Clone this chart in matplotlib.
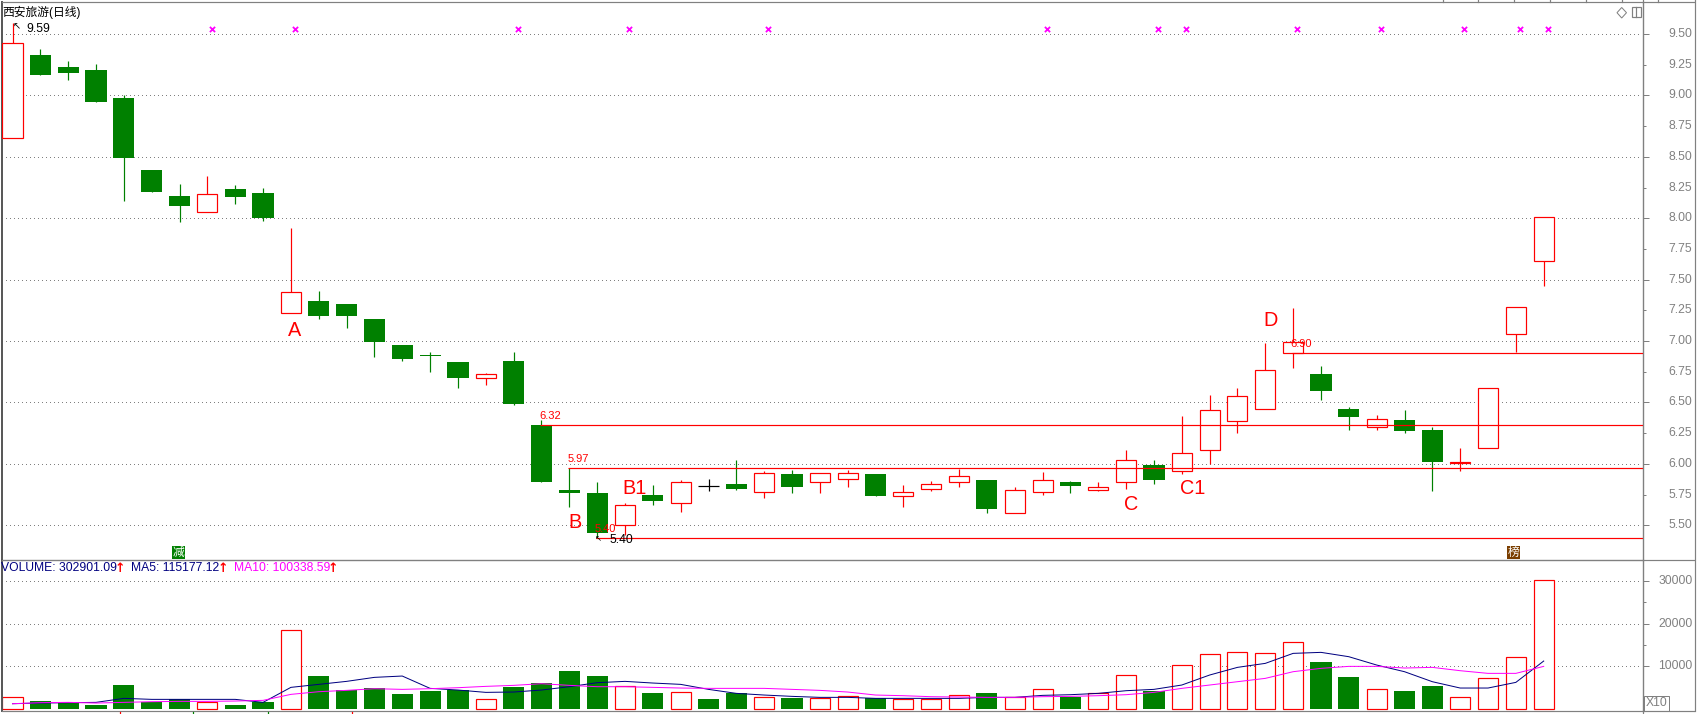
import matplotlib
matplotlib.use("Agg")
import matplotlib.pyplot as plt
from matplotlib.lines import Line2D
from matplotlib.patches import Rectangle, Polygon
import numpy as np

W, H = 1697, 714

# candles
opens = [8.65, 9.33, 9.23, 9.207, 8.98, 8.39, 8.18, 8.05, 8.24, 8.205, 7.23, 7.33, 7.30, 7.18,
         6.97, 6.89, 6.83, 6.70, 6.84, 6.316, 5.787, 5.763, 5.50, 5.746, 5.68, 5.823, 5.836, 5.774,
         5.917, 5.85, 5.874, 5.917, 5.741, 5.793, 5.85, 5.869, 5.603, 5.774, 5.852, 5.79, 5.85, 5.988,
         5.945, 6.11, 6.346, 6.444, 6.90, 6.73, 6.447, 6.297, 6.357, 6.276, 6.006, 6.126, 7.055, 7.654]
closes = [9.424, 9.166, 9.185, 8.95, 8.49, 8.21, 8.10, 8.20, 8.175, 8.0, 7.396, 7.20, 7.20, 6.99,
          6.85, 6.88, 6.70, 6.73, 6.49, 5.854, 5.766, 5.44, 5.662, 5.70, 5.85, 5.823, 5.798, 5.923,
          5.814, 5.923, 5.923, 5.741, 5.768, 5.833, 5.898, 5.635, 5.785, 5.866, 5.823, 5.809, 6.029, 5.871,
          6.086, 6.436, 6.553, 6.765, 6.99, 6.59, 6.384, 6.363, 6.27, 6.018, 6.012, 6.62, 7.275, 8.007]
highs = [9.59, 9.378, 9.28, 9.256, 9.0, 8.39, 8.28, 8.34, 8.27, 8.245, 7.92, 7.41, 7.30, 7.18,
         6.97, 6.91, 6.83, 6.74, 6.91, 6.36, 5.964, 5.852, 5.679, 5.828, 5.869, 5.874, 6.03, 5.942,
         5.95, 5.923, 5.95, 5.917, 5.828, 5.86, 5.961, 5.869, 5.809, 5.934, 5.86, 5.852, 6.113, 6.029,
         6.39, 6.56, 6.615, 6.985, 7.27, 6.80, 6.463, 6.395, 6.44, 6.297, 6.126, 6.62, 7.275, 8.007]
lows = [8.65, 9.166, 9.125, 8.95, 8.14, 8.21, 7.97, 8.05, 8.115, 7.98, 7.23, 7.18, 7.11, 6.87,
        6.84, 6.75, 6.62, 6.64, 6.48, 5.854, 5.65, 5.40, 5.42, 5.665, 5.61, 5.776, 5.787, 5.725,
        5.766, 5.766, 5.814, 5.741, 5.65, 5.782, 5.814, 5.603, 5.603, 5.747, 5.766, 5.782, 5.798, 5.839,
        5.917, 6.0, 6.254, 6.444, 6.78, 6.52, 6.278, 6.278, 6.254, 5.782, 5.945, 6.126, 6.91, 7.45]

volumes = [2670, 1800, 1490, 860, 5570, 1650, 2200, 1490, 860, 1570, 18430, 7690, 4390, 4780,
           3450, 4160, 4390, 2200, 5100, 6000, 8860, 7690, 5250, 3690, 3840, 2270, 3610, 2670,
           2510, 2430, 2900, 2430, 2200, 2200, 3140, 3690, 2670, 4550, 2820, 3610, 7840, 4160,
           10200, 12780, 13250, 13020, 15610, 10980, 7450, 4550, 4160, 5330, 2670, 7140, 12080, 30200]
ma5 = [1176, 1333, 1412, 1490, 2431, 2196, 2196, 2196, 2196, 1490, 5020, 5725, 6431, 7372,
       7686, 4784, 4392, 3843, 3922, 4392, 5176, 6118, 6431, 6039, 5725, 4549, 3608, 3216,
       2902, 2667, 2667, 2431, 2431, 2431, 2431, 2667, 2667, 3137, 3294, 3608, 4235, 4549,
       5569, 7921, 9725, 10666, 13019, 13255, 12235, 10274, 8706, 6353, 4863, 4863, 6196, 11215]
ma10 = [1176, 1412, 1490, 1333, 1490, 1647, 1725, 1725, 1804, 1961, 3372, 4000, 4314, 4706,
        4549, 4706, 4941, 5255, 5490, 5882, 5490, 5176, 5176, 5020, 4863, 4784, 4784, 4784,
        4549, 4314, 3922, 3216, 3059, 2824, 2745, 2667, 2667, 2824, 2902, 3059, 3294, 3843,
        4784, 5569, 6353, 7137, 8706, 9490, 9961, 9961, 9569, 9725, 8941, 8314, 8314, 9961]

marker_days = [7, 10, 18, 22, 27, 37, 41, 42, 46, 49, 52, 54, 55]
level_starts = [19, 20, 21, 46]
level_values = [6.315, 5.965, 5.395, 6.90]
level_labels = ["6.32", "5.97", "5.40", "6.90"]
price_ticks = [5.5, 6.0, 6.5, 7.0, 7.5, 8.0, 8.5, 9.0, 9.5]
vol_ticks = [10000, 20000, 30000]

RED = "#ff0000"
GREEN = "#008000"
GREY = "#808080"
NAVY = "#000080"
PINK = "#ff00ff"
PX = 0.72  # one pixel in points at dpi 100

plt.rcParams["font.family"] = ["Liberation Sans", "Noto Sans CJK SC", "DejaVu Sans"]
plt.rcParams["lines.scale_dashes"] = False


def fx(x):
    return x / W


def fy(y):
    return 1 - y / H


def main():
    fig = plt.figure(figsize=(W / 100, H / 100), dpi=100)
    left, right = 1.5, 1643.3
    top, mid, bottom = 2.0, 560.3, 711.3
    ax = fig.add_axes([fx(left), fy(mid), fx(right - left), fy(top) - fy(mid)])
    vax = fig.add_axes([fx(left), fy(bottom), fx(right - left), fy(mid) - fy(bottom)])

    x0, step = 12.5, 27.84
    xlim = ((left - x0) / step, (right - x0) / step)
    ax.set_xlim(xlim)
    vax.set_xlim(xlim)
    ax.set_ylim(5.215, 9.7605)
    vax.set_ylim(-612, 34918)

    days = np.arange(len(opens))
    colors = []
    for o, c in zip(opens, closes):
        colors.append("black" if o == c else (RED if c > o else GREEN))

    grid_end = (1640 - x0) / step
    dots = (0, (PX, 2.16))
    ax.hlines(price_ticks, xlim[0], grid_end, color=GREY, lw=PX, linestyle=dots, zorder=1, antialiased=False)
    vax.hlines(vol_ticks, xlim[0], grid_end, color=GREY, lw=PX, linestyle=dots, zorder=1, antialiased=False)

    # price candles
    for i in days:
        c = colors[i]
        ax.vlines(i, lows[i], highs[i], color=c, lw=PX * 1.2, zorder=2)
        if opens[i] == closes[i]:
            ax.hlines(opens[i], i - 0.36, i + 0.36, color=c, lw=PX * 1.2, zorder=3)
            continue
        lo, hi = sorted((opens[i], closes[i]))
        if c == RED:
            ax.bar(i, hi - lo, 0.72, lo, facecolor="white", edgecolor=RED, lw=PX * 1.2, zorder=3)
        else:
            ax.bar(i, hi - lo, 0.76, lo, facecolor=GREEN, edgecolor="none", zorder=3)

    ax.scatter(np.array(marker_days) + 0.15, [9.538] * len(marker_days), marker="x", s=14,
               color=PINK, linewidths=1.3, zorder=4)

    for d, v in zip(level_starts, level_values):
        ax.hlines(v, d - 0.05, xlim[1], color=RED, lw=PX * 1.2, zorder=5)

    # volume bars
    for i in days:
        if colors[i] == RED:
            vax.bar(i, volumes[i], 0.72, facecolor="white", edgecolor=RED, lw=PX * 1.2, zorder=2)
        else:
            vax.bar(i, volumes[i], 0.76, color=GREEN, zorder=2)
    vax.plot(days, ma5, color=NAVY, lw=PX, zorder=3)
    vax.plot(days, ma10, color=PINK, lw=PX, zorder=4)

    for a in (ax, vax):
        a.set_xticks([])
        a.patch.set_alpha(0)
        for s in a.spines.values():
            s.set_color(GREY)
            s.set_linewidth(PX * 1.2)
        a.yaxis.tick_right()
        a.tick_params(axis="y", which="major", length=4.3, width=PX, color=GREY, pad=0, labelright=False)
        a.tick_params(axis="y", which="minor", length=2.2, width=PX, color=GREY)
    ax.spines["left"].set_color("#555555")
    ax.spines["left"].set_linewidth(1.4)
    vax.spines["left"].set_color("#555555")
    vax.spines["left"].set_linewidth(1.4)
    ax.set_yticks(price_ticks)
    ax.set_yticks([5.75, 6.25, 6.75, 7.25, 7.75, 8.25, 8.75, 9.25], minor=True)
    vax.set_yticks(vol_ticks)
    vax.set_yticks([15000, 25000], minor=True)

    # right hand labels
    for t in [5.5, 5.75, 6.0, 6.25, 6.5, 6.75, 7.0, 7.25, 7.5, 7.75, 8.0, 8.25, 8.5, 8.75, 9.0, 9.25, 9.5]:
        ax.text(1.0 + 49 / (right - left), t, f"{t:.2f}", transform=ax.get_yaxis_transform(),
                ha="right", va="center", fontsize=8.7, color=GREY)
    for t in vol_ticks:
        vax.text(1.0 + 49 / (right - left), t, str(t), transform=vax.get_yaxis_transform(),
                 ha="right", va="center", fontsize=8.7, color=GREY)

    # outer window lines
    def line(x1, y1, x2, y2, color=GREY, lw=PX * 1.2):
        fig.add_artist(Line2D([fx(x1), fx(x2)], [fy(y1), fy(y2)], color=color, lw=lw))

    line(right, 0, right, H)
    line(right, top, 1694, top)
    line(right, mid, 1694, mid)
    line(right, bottom, 1694, bottom)
    line(1694.5, 0, 1694.5, bottom)
    for x in [1443, 1478, 1514, 1550, 1586, 1622, 1658]:
        line(x, 0, x, top)
    for x, c in [(120, RED), (193, GREEN), (268, GREEN), (352, RED)]:
        line(x, bottom + 0.5, x, H, color=c)

    # top right icons
    fig.add_artist(Polygon([(fx(1617), fy(12.7)), (fx(1621.7), fy(7.5)), (fx(1626.5), fy(12.7)), (fx(1621.7), fy(18))],
                           closed=True, fill=False, edgecolor=GREY, lw=PX))
    fig.add_artist(Rectangle((fx(1631.7), fy(17.3)), fx(9), fy(7.3) - fy(17.3), fill=False, edgecolor=GREY, lw=PX * 1.2))
    line(1636.2, 7.3, 1636.2, 17.3)

    # texts
    def txt(x, y, s, color="black", size=8.7, **kw):
        fig.text(fx(x), fy(y), s, color=color, fontsize=size, va="center", ha=kw.pop("ha", "left"), **kw)

    txt(2, 12, "西安旅游(日线)", size=8.5)
    txt(13, 26, "↖", size=7, family="DejaVu Sans")
    txt(26, 29, "9.59")
    txt(610, 540, "5.40")
    txt(595, 539, "↖", size=6, family="DejaVu Sans")
    level_pos = [(539, 416), (568, 459), (595, 529), (1290, 344)]
    for (x, y), s in zip(level_pos, level_labels):
        txt(x, y, s, color=RED, size=8)

    for (x, y), s in zip([(295, 330), (575, 523), (635, 489), (1131, 505), (1193, 489), (1271, 321)],
                         ["A", "B", "B1", "C", "C1", "D"]):
        txt(x, y, s, color=RED, size=14.3, ha="center")

    txt(1, 568, "VOLUME: 302901.09", color=NAVY, size=8.7)
    txt(131, 568, "MA5: 115177.12", color=NAVY, size=8.7)
    txt(234, 568, "MA10: 100338.59", color=PINK, size=8.7)
    for x in [119.5, 222.5, 332.5]:
        txt(x, 568, "↑", color=RED, size=9, ha="center", family="DejaVu Sans", fontweight="bold")

    for x, s, c in [(178.5, "减", GREEN), (1513.5, "榜", "#7a3e00")]:
        fig.add_artist(Rectangle((fx(x - 6.5), fy(559)), fx(13), fy(546) - fy(559), facecolor=c, edgecolor="none"))
        txt(x, 552.5, s, color="white", size=8.5, ha="center", family="Noto Sans CJK SC")

    fig.add_artist(Rectangle((fx(1644), fy(711)), fx(25), fy(696) - fy(711), fill=False, edgecolor=GREY, lw=PX))
    txt(1656.5, 703.5, "X10", color=GREY, size=8.7, ha="center")

    fig.savefig("out.png", dpi=100, facecolor="white")
    plt.close()


if __name__ == "__main__":
    main()
